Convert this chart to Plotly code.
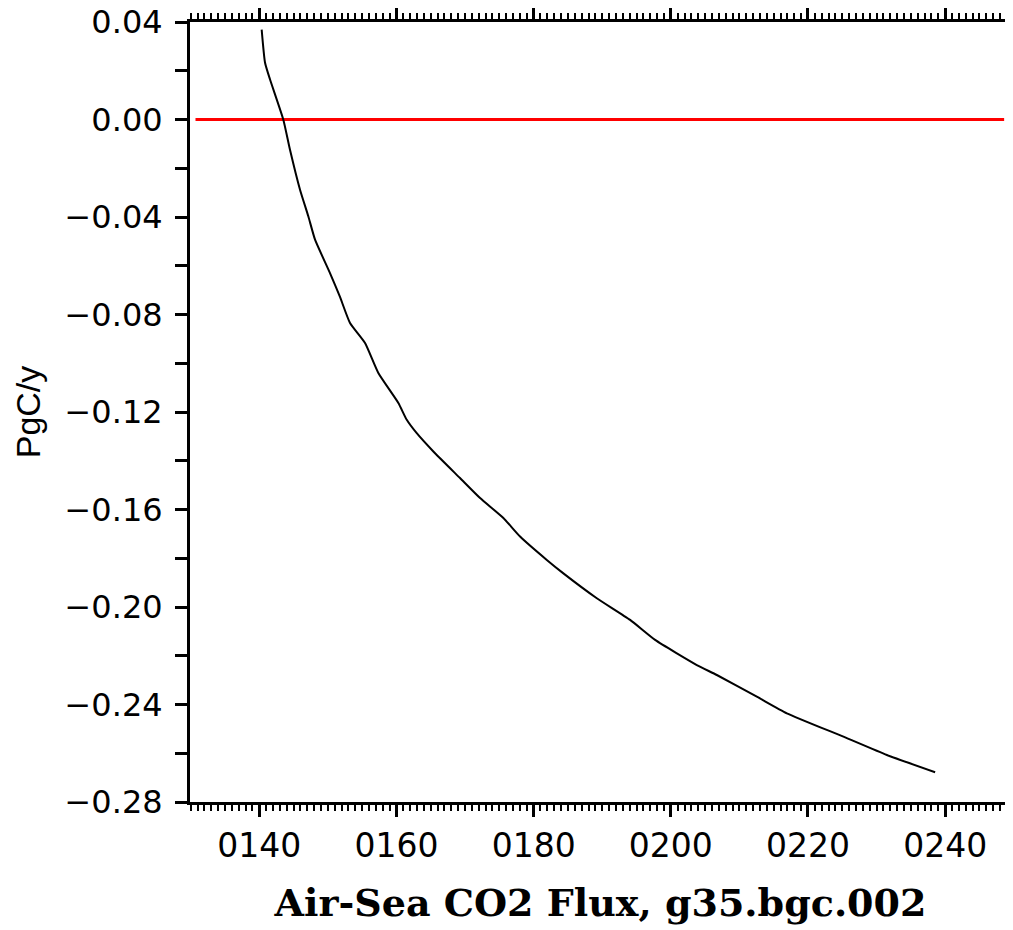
import plotly.graph_objects as go

# curve (model year, PgC/y)
years = [140.35, 140.84, 141.57, 143.50, 144.47, 145.94, 147.15, 148.13, 150.31,
         151.77, 153.23, 155.42, 157.36, 160.28, 161.50, 162.96, 165.38, 169.27,
         172.19, 175.59, 178.02, 181.92, 184.34, 189.21, 194.07, 197.71, 203.79,
         206.71, 212.54, 216.92, 225.17, 231.50, 238.54]
flux = [0.0369, 0.0233, 0.0164, 0.0000, -0.0123, -0.0288, -0.0397, -0.0493, -0.0630,
        -0.0728, -0.0835, -0.0917, -0.1040, -0.1163, -0.1232, -0.1287, -0.1362, -0.1471,
        -0.1553, -0.1635, -0.1711, -0.1807, -0.1862, -0.1964, -0.2053, -0.2135, -0.2238,
        -0.2279, -0.2368, -0.2436, -0.2532, -0.2607, -0.2678]

# zero reference line
zero_x = [130.7, 248.6]
zero_y = [0.0, 0.0]

x_tickvals = [140, 160, 180, 200, 220, 240]
x_ticktext = ['0140', '0160', '0180', '0200', '0220', '0240']

fig = go.Figure()
fig.add_trace(go.Scatter(x=zero_x, y=zero_y, mode='lines',
                         line=dict(color='#ff0000', width=3), showlegend=False))
fig.add_trace(go.Scatter(x=years, y=flux, mode='lines',
                         line=dict(color='black', width=2, shape='spline', smoothing=0.5),
                         showlegend=False))

# page body has an 8px margin, so the figure is sized/offset to account for it
fig.update_layout(
    width=1005, height=922,
    margin=dict(l=182, r=2, t=14, b=128),
    plot_bgcolor='white', paper_bgcolor='white',
    font=dict(family='DejaVu Sans, Arial, sans-serif', color='black'),
)

fig.update_xaxes(
    range=[129.9, 249.6], automargin=False,
    tickvals=x_tickvals, ticktext=x_ticktext,
    ticks='outside', ticklen=12, tickwidth=3, tickcolor='black',
    minor=dict(dtick=1, tick0=0, ticks='outside', ticklen=6, tickwidth=2,
               tickcolor='black', showgrid=False),
    showline=True, linewidth=3, linecolor='black', mirror='ticks',
    showgrid=False, zeroline=False,
    tickfont=dict(size=33),
    ticklabelstandoff=0,
    title=dict(text='<b>Air-Sea CO2 Flux, g35.bgc.002</b>',
               font=dict(family='DejaVu Serif, serif', size=38),
               standoff=26),
)

fig.update_yaxes(
    range=[-0.28, 0.04], automargin=False,
    dtick=0.04, tick0=0, tickformat='.2f',
    ticks='outside', ticklen=12, tickwidth=3, tickcolor='black',
    minor=dict(dtick=0.02, tick0=0, ticks='outside', ticklen=12, tickwidth=3,
               tickcolor='black', showgrid=False),
    showline=True, linewidth=3, linecolor='black', mirror=True,
    showgrid=False, zeroline=False,
    tickfont=dict(size=32),
    ticklabelstandoff=6,
    ticklabeloverflow='allow',
    title=dict(text='PgC/y', font=dict(family='Liberation Sans, Arial, sans-serif', size=34),
               standoff=14),
)

fig.write_html('out.html')
